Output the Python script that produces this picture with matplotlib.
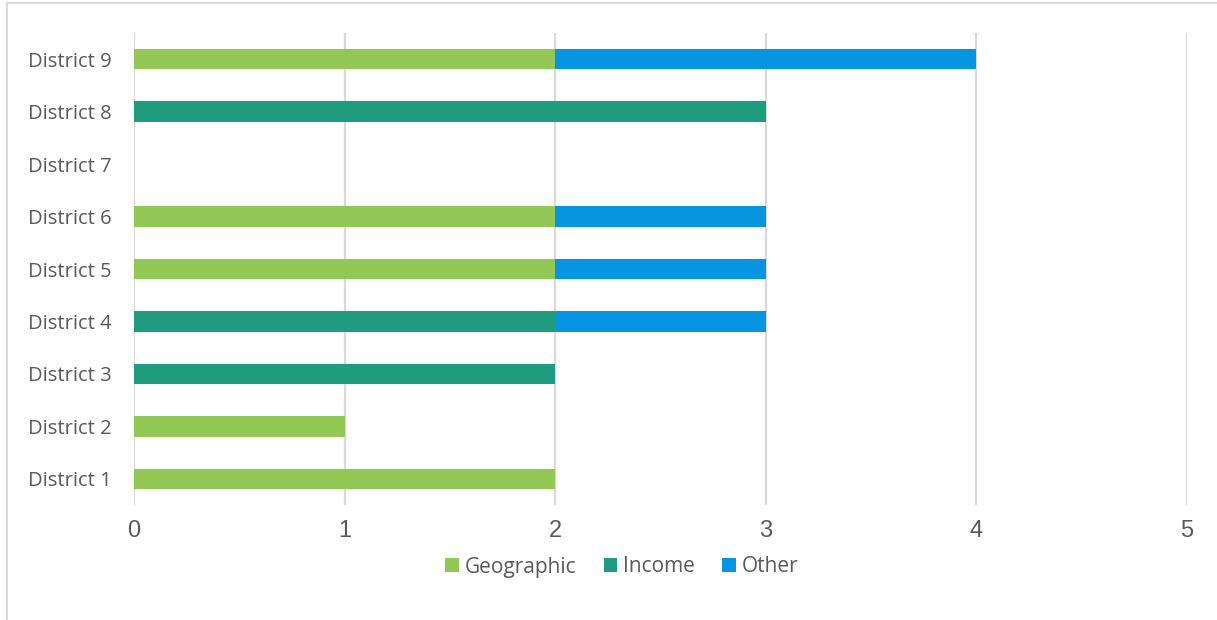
import numpy as np
import matplotlib.pyplot as plt
from matplotlib.patches import Rectangle

districts = ["District 1", "District 2", "District 3", "District 4", "District 5",
             "District 6", "District 7", "District 8", "District 9"]
geographic = [2, 1, 0, 0, 2, 2, 0, 0, 2]
income = [0, 0, 2, 2, 0, 0, 0, 3, 0]
other = [0, 0, 0, 1, 1, 1, 0, 0, 2]
series_names = ["Geographic", "Income", "Other"]
colors = ["#92C755", "#1F9B7D", "#0795E1"]
x_ticks = [0, 1, 2, 3, 4, 5]

fig = plt.figure(figsize=(12.17, 6.2), dpi=100)
# chart frame (clipped at top / left like the screenshot)
fig.patches.append(Rectangle((7 / 1217, -0.1), 1.2, 1 - 3 / 620 + 0.1,
                             transform=fig.transFigure, fill=False,
                             edgecolor="#D9D9D9", linewidth=1.5))

ax = fig.add_axes([134 / 1217, 1 - 505 / 620, (1187 - 134) / 1217, (505 - 33) / 620])

y = np.arange(len(districts))
left = np.zeros(len(districts))
for vals, name, col in zip([geographic, income, other], series_names, colors):
    vals = np.array(vals, dtype=float)
    ax.barh(y, vals, left=left, height=0.39, color=col, label=name, zorder=3)
    left += vals

ax.set_xlim(0, 5)
ax.set_ylim(-0.5, 8.5)
ax.set_xticks(x_ticks)
ax.set_yticks(y)
ax.set_yticklabels(districts, fontsize=14.5, color="#595959", family="Open Sans")
for lab in ax.get_xticklabels():
    lab.set_fontsize(17)
    lab.set_color("#595959")
    lab.set_family("Liberation Sans")
ax.tick_params(length=0)
ax.tick_params(axis="x", pad=11)
ax.tick_params(axis="y", pad=16)
ax.grid(axis="x", color="#D9D9D9", linewidth=1.6, zorder=0)
for s in ax.spines.values():
    s.set_visible(False)

leg = fig.legend(loc="center", bbox_to_anchor=(622 / 1217, 1 - 567 / 620), ncol=3,
                 frameon=False, handlelength=0.65, handleheight=0.65, handletextpad=0.3,
                 columnspacing=1.3, prop={"family": "Open Sans", "size": 15})
for t in leg.get_texts():
    t.set_color("#595959")

fig.savefig("out.png", dpi=100)
